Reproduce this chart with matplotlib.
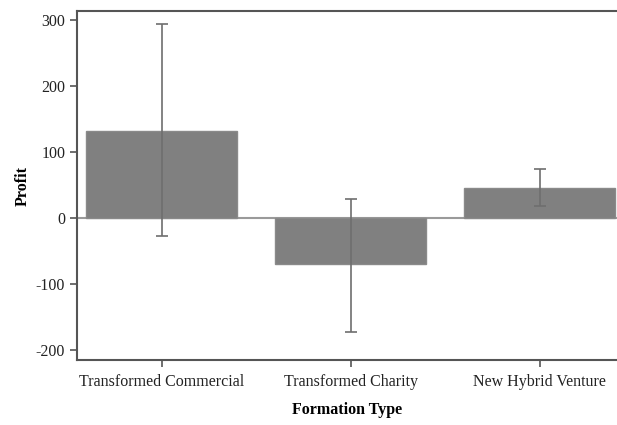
import numpy as np
import matplotlib
matplotlib.use("Agg")
import matplotlib.pyplot as plt

categories = ["Transformed Commercial", "Transformed Charity", "New Hybrid Venture"]
profit = [132, -70, 45]
err_low = [-27, -172, 19]
err_high = [294, 29, 74]

plt.rcParams["font.family"] = ["Liberation Serif", "DejaVu Serif"]
plt.rcParams["axes.unicode_minus"] = False

fig = plt.figure(figsize=(6.17, 4.25), dpi=100)
ax = fig.add_axes([77 / 617, 65 / 425, 1 - 77 / 617, (360 - 11) / 425])

x = np.arange(len(categories))
vals = np.array(profit)
yerr = np.array([vals - np.array(err_low), np.array(err_high) - vals])

ax.bar(x, vals, width=0.8, color="#808080", edgecolor="#8a8a8a", linewidth=1.0, zorder=2)
ax.errorbar(x, vals, yerr=yerr, fmt="none", ecolor="#6e6e6e", elinewidth=1.2,
            capsize=4, capthick=1.2, zorder=3)
ax.axhline(0, color="#9a9a9a", lw=1.5, zorder=1)

ax.set_xlim(-0.45, 2.41)
ax.set_ylim(-215, 314)
ax.set_yticks([300, 200, 100, 0, -100, -200])
ax.set_xticks(x)
ax.set_xticklabels(categories)

for side in ["left", "bottom", "top"]:
    ax.spines[side].set_color("#555555")
    ax.spines[side].set_linewidth(1.5)
ax.spines["right"].set_visible(False)

ax.tick_params(axis="both", direction="out", length=5, width=1.2, color="#555555",
               labelsize=11.5, labelcolor="#222222")
ax.tick_params(axis="x", pad=5)
ax.set_ylabel("Profit", fontsize=11.5, fontweight="bold", labelpad=4)
ax.set_xlabel("Formation Type", fontsize=11.5, fontweight="bold", labelpad=9)

fig.savefig("out.png", dpi=100)
